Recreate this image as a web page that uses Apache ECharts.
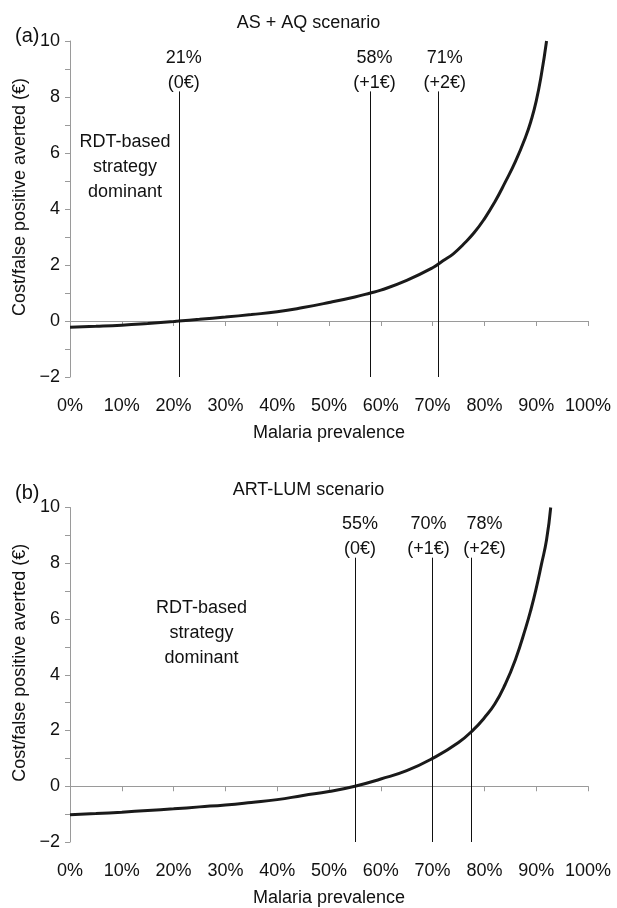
<!DOCTYPE html>
<html>
<head>
<meta charset="utf-8">
<script src="https://cdn.jsdelivr.net/npm/echarts@6/dist/echarts.min.js"></script>
<style>
  html, body { margin: 0; padding: 0; background: #fff; }
  #chart { width: 617px; height: 908px; }
</style>
</head>
<body>
<div id="chart"></div>
<script>
// x axis ticks (prevalence, %)
const xTicks = [0, 10, 20, 30, 40, 50, 60, 70, 80, 90, 100]

// (a) AS + AQ scenario
const prevA = [0, 5, 10, 15, 20, 21, 25, 30, 35, 40, 45, 50, 55, 58, 60, 65, 70, 72, 74, 76, 78, 80, 82, 84, 86, 88, 89, 90, 91, 92]
const costA = [-0.22, -0.19, -0.15, -0.09, -0.02, 0, 0.06, 0.14, 0.23, 0.33, 0.48, 0.66, 0.86, 1.0, 1.1, 1.45, 1.9, 2.15, 2.4, 2.75, 3.15, 3.65, 4.25, 4.95, 5.7, 6.6, 7.15, 7.85, 8.8, 10.0]
const cutsA = [21, 58, 71]
const cutLabelsA = ['21%\n(0€)', '58%\n(+1€)', '71%\n(+2€)']

// (b) ART-LUM scenario
const prevB = [0, 5, 10, 15, 20, 25, 30, 35, 40, 45, 50, 55, 60, 65, 70, 75, 78, 80, 82, 84, 86, 88, 89, 90, 91, 92, 92.8]
const costB = [-1.02, -0.98, -0.93, -0.87, -0.81, -0.74, -0.67, -0.58, -0.48, -0.33, -0.19, 0, 0.26, 0.56, 1.0, 1.57, 2.05, 2.46, 2.95, 3.65, 4.55, 5.7, 6.35, 7.1, 7.95, 8.84, 10.0]
const cutsB = [55, 70, 77.5]
const cutLabelsB = ['55%\n(0€)', '70%\n(+1€)', '78%\n(+2€)']

const cutTop = 8.2
const noteText = 'RDT-based\nstrategy\ndominant'
const notePosA = [10.6, 5.5]
const notePosB = [25.4, 5.5]

// horizontal nudges of the cut labels (px)
const shiftA = [5, 4, 7]
const shiftB = [5, -4, 13]

const font = 'Liberation Sans, Arial, Helvetica, sans-serif'
const fs = 18
const grey = '#9a9a9a'

function zip(xs, ys) {
  return xs.map((x, i) => [x, ys[i]])
}

function labelAxis(gi) {
  return {
    type: 'value', gridIndex: gi, min: 0, max: 100, interval: 10,
    position: 'bottom',
    axisLine: { show: false, onZero: false },
    axisTick: { show: false },
    splitLine: { show: false },
    axisLabel: { margin: 20, fontSize: fs, color: '#111', fontFamily: font, formatter: '{value}%' },
    name: 'Malaria prevalence', nameLocation: 'middle', nameGap: 47,
    nameTextStyle: { fontSize: fs, color: '#111', fontFamily: font }
  }
}

function zeroAxis(gi) {
  return {
    type: 'value', gridIndex: gi, min: 0, max: 100, interval: 10,
    position: 'bottom',
    axisLine: { show: true, onZero: true, lineStyle: { color: grey, width: 1 } },
    axisTick: { show: true, length: 5, lineStyle: { color: grey } },
    axisLabel: { show: false },
    splitLine: { show: false }
  }
}

function yAxis(gi) {
  return {
    type: 'value', gridIndex: gi, min: -2, max: 10, interval: 2,
    axisLine: { show: true, onZero: false, lineStyle: { color: grey, width: 1 } },
    axisTick: { show: true, length: 5, lineStyle: { color: grey } },
    minorTick: { show: true, splitNumber: 2, length: 5, lineStyle: { color: grey } },
    splitLine: { show: false },
    axisLabel: {
      margin: 10, fontSize: fs, color: '#111', fontFamily: font,
      formatter: v => (v < 0 ? '\u2212' + Math.abs(v) : String(v))
    },
    name: 'Cost/false positive averted (€)', nameLocation: 'middle', nameGap: 41,
    nameTextStyle: { fontSize: fs, color: '#111', fontFamily: font, padding: [0, 0, 0, 24] }
  }
}

function curve(gi, xs, ys, cuts, cutLabels, shifts, notePos) {
  return {
    type: 'line', xAxisIndex: gi * 2, yAxisIndex: gi,
    data: zip(xs, ys),
    showSymbol: false, smooth: 0.5,
    lineStyle: { color: '#1a1a1a', width: 3 },
    silent: true,
    markLine: {
      silent: true, symbol: ['none', 'none'], animation: false,
      lineStyle: { color: '#111', width: 1, type: 'solid' },
      label: {
        show: true, position: 'end', distance: -4, formatter: '{b}',
        fontSize: fs, lineHeight: 25, color: '#111', fontFamily: font
      },
      data: cuts.map((c, i) => [
        { name: cutLabels[i], coord: [c, -2], label: { offset: [shifts[i], 0] } },
        { coord: [c, cutTop] }
      ])
    },
    markPoint: {
      silent: true, symbol: 'circle', symbolSize: 0, animation: false,
      label: {
        show: true, position: 'inside', formatter: noteText,
        fontSize: fs, lineHeight: 25, color: '#111', fontFamily: font, align: 'center'
      },
      data: [{ coord: notePos }]
    }
  }
}

const chart = echarts.init(document.getElementById('chart'))
chart.setOption({
  animation: false,
  backgroundColor: '#fff',
  title: [
    { text: 'AS + AQ scenario', left: 'center', top: 9, textStyle: { fontSize: fs, fontWeight: 'normal', color: '#111', fontFamily: font } },
    { text: 'ART-LUM scenario', left: 'center', top: 476, textStyle: { fontSize: fs, fontWeight: 'normal', color: '#111', fontFamily: font } },
    { text: '(a)', left: 10, top: 21, textStyle: { fontSize: 20, fontWeight: 'normal', color: '#111', fontFamily: font } },
    { text: '(b)', left: 10, top: 478, textStyle: { fontSize: 20, fontWeight: 'normal', color: '#111', fontFamily: font } }
  ],
  grid: [
    { left: 70, right: 29, top: 41, height: 336 },
    { left: 70, right: 29, top: 507.5, height: 336 }
  ],
  xAxis: [labelAxis(0), zeroAxis(0), labelAxis(1), zeroAxis(1)],
  yAxis: [yAxis(0), yAxis(1)],
  series: [
    curve(0, prevA, costA, cutsA, cutLabelsA, shiftA, notePosA),
    curve(1, prevB, costB, cutsB, cutLabelsB, shiftB, notePosB)
  ]
})
</script>
</body>
</html>
